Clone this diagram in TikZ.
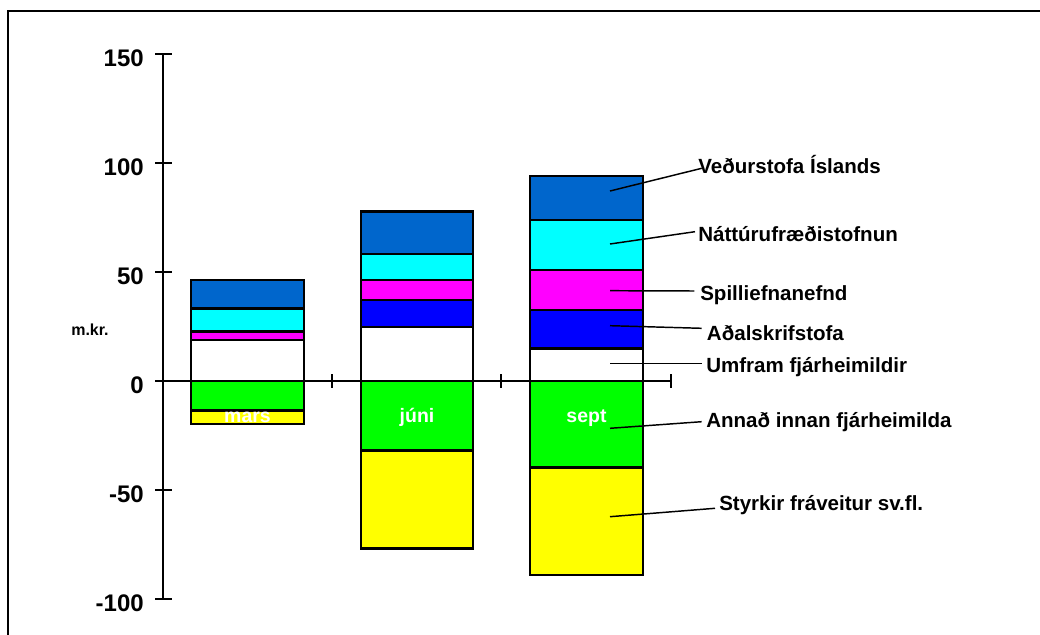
\documentclass[tikz,border=0pt]{standalone}
\usepackage{fontspec}
\setmainfont{Liberation Sans}
\definecolor{cdark}{HTML}{0066CC}
\definecolor{ccyan}{HTML}{00FFFF}
\definecolor{cmag}{HTML}{FF00FF}
\definecolor{cblue}{HTML}{0000FF}
\definecolor{cgreen}{HTML}{00FF00}
\definecolor{cyell}{HTML}{FFFF00}
\begin{document}
\begin{tikzpicture}[x=0.75pt,y=-0.75pt,
  seg/.style={draw=black,line width=1.9pt},
  axisline/.style={line width=1.5pt},
  leader/.style={line width=1.1pt},
  lab/.style={anchor=base west,inner sep=0pt,font=\fontsize{15.4}{18}\selectfont\bfseries},
  tlab/.style={anchor=east,inner sep=0pt,font=\fontsize{18}{20}\selectfont\bfseries},
  mlab/.style={anchor=base,text=white,inner sep=0pt,font=\fontsize{14.6}{17}\selectfont\bfseries}]
\useasboundingbox (0,0) rectangle (1040,635);
\clip (0,0) rectangle (1040,635);
\draw[line width=2.2pt] (8,650) -- (8,11) -- (1050,11);
% mars
\draw[seg,fill=cdark] (191,280) rectangle (304,308.3);
\draw[seg,fill=ccyan] (191,308.3) rectangle (304,331.7);
\draw[seg,fill=cmag] (191,331.7) rectangle (304,340);
\draw[seg,fill=white] (191,340) rectangle (304,381);
\draw[seg,fill=cgreen] (191,381) rectangle (304,410.7);
\draw[seg,fill=cyell] (191,410.7) rectangle (304,424);
% juni
\draw[seg,fill=cdark] (361,211.7) rectangle (473,254);
\draw[seg,fill=ccyan] (361,254) rectangle (473,280);
\draw[seg,fill=cmag] (361,280) rectangle (473,300);
\draw[seg,fill=cblue] (361,300) rectangle (473,327);
\draw[seg,fill=white] (361,327) rectangle (473,381);
\draw[seg,fill=cgreen] (361,381) rectangle (473,450.7);
\draw[seg,fill=cyell] (361,450.7) rectangle (473,548.3);
% sept
\draw[seg,fill=cdark] (530,176) rectangle (643,220);
\draw[seg,fill=ccyan] (530,220) rectangle (643,270);
\draw[seg,fill=cmag] (530,270) rectangle (643,310);
\draw[seg,fill=cblue] (530,310) rectangle (643,348.3);
\draw[seg,fill=white] (530,348.3) rectangle (643,381);
\draw[seg,fill=cgreen] (530,381) rectangle (643,467.7);
\draw[seg,fill=cyell] (530,467.7) rectangle (643,575);
% axes
\draw[axisline] (163,54) -- (163,599);
\draw[axisline] (163,381) -- (671,381);
\foreach \yy/\tt in {54/150,163/100,272/50,381/0,490/-50,599/-100}{
  \draw[axisline] (155,\yy) -- (172,\yy);
  \node[tlab] (t\tt) at (144,\yy+4.5) {\tt};
}
\foreach \xx in {332,501,671}{
  \draw[axisline] (\xx,374) -- (\xx,388);
}
\node[inner sep=0pt,font=\fontsize{12}{14}\selectfont\bfseries] (unit) at (90,330) {m.kr.};
% month labels
\node[mlab] (mmars) at (247.5,422) {mars};
\node[mlab] (mjuni) at (417,422) {júni};
\node[mlab] (msept) at (586.5,422) {sept};
% legend labels
\node[lab] (l1) at (698,174) {Veðurstofa Íslands};
\node[lab] (l2) at (698,241.7) {Náttúrufræðistofnun};
\node[lab] (l3) at (700,300.7) {Spilliefnanefnd};
\node[lab] (l4) at (706.7,340) {Aðalskrifstofa};
\node[lab] (l5) at (706,372.7) {Umfram fjárheimildir};
\node[lab] (l6) at (706,427.3) {Annað innan fjárheimilda};
\node[lab] (l7) at (719,510.7) {Styrkir fráveitur sv.fl.};
\coordinate (s1) at (610,191);   \coordinate (e1) at (701.7,168.3);
\coordinate (s2) at (610,244);   \coordinate (e2) at (695,231.7);
\coordinate (s3) at (610,290.7); \coordinate (e3) at (694.3,291);
\coordinate (s4) at (610,325.7); \coordinate (e4) at (701.7,328.3);
\coordinate (s5) at (610,363.3); \coordinate (e5) at (701.7,363.3);
\coordinate (s6) at (610,428.3); \coordinate (e6) at (701.7,421.7);
\coordinate (s7) at (610,516.7); \coordinate (e7) at (715,508.3);
\foreach \i in {1,...,7}{\draw[leader] (s\i) -- (e\i);}
\end{tikzpicture}
\end{document}
